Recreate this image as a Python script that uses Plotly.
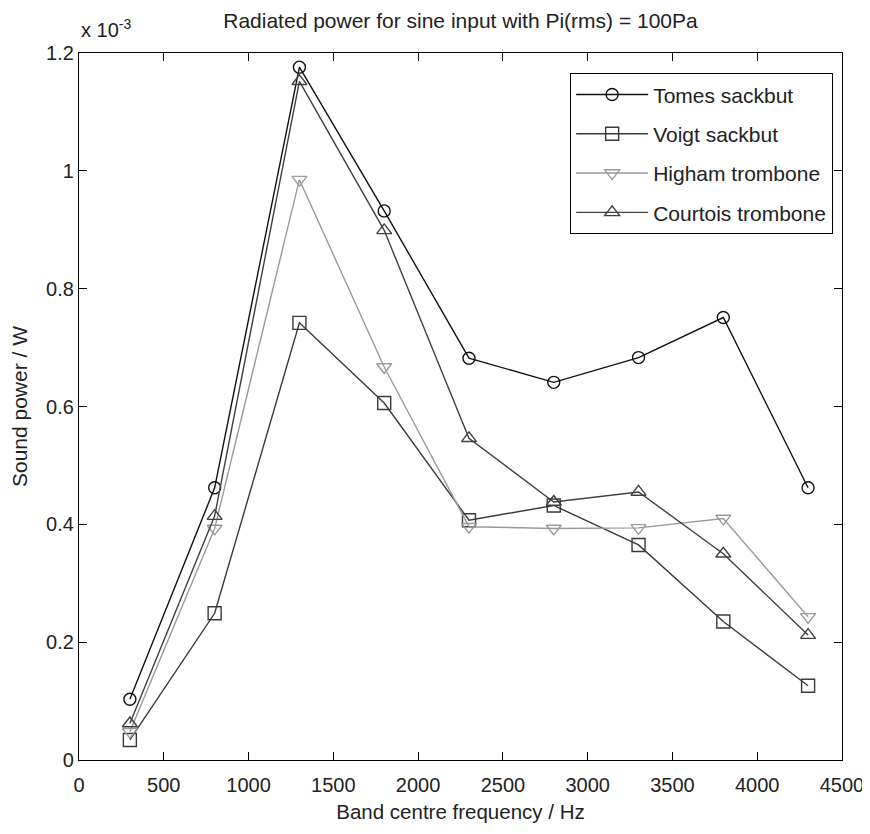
import plotly.graph_objects as go

freq = [300, 800, 1300, 1800, 2300, 2800, 3300, 3800, 4300]
tomes = [0.103, 0.462, 1.176, 0.932, 0.682, 0.641, 0.683, 0.751, 0.462]
voigt = [0.034, 0.249, 0.742, 0.606, 0.407, 0.432, 0.365, 0.235, 0.126]
higham = [0.048, 0.393, 0.985, 0.667, 0.396, 0.393, 0.394, 0.410, 0.243]
courtois = [0.062, 0.414, 1.152, 0.899, 0.546, 0.438, 0.455, 0.350, 0.212]

series_names = ["Tomes sackbut", "Voigt sackbut", "Higham trombone", "Courtois trombone"]
series_values = [tomes, voigt, higham, courtois]
symbols = ["circle-open", "square-open", "triangle-down-open", "triangle-up-open"]
colors = ["#111111", "#3a3a3a", "#9a9a9a", "#404040"]
sizes = [12, 13, 13, 13]

x_ticks = [0, 500, 1000, 1500, 2000, 2500, 3000, 3500, 4000, 4500]
x_ticklabels = [str(v) for v in x_ticks]
y_ticks = [0, 0.2, 0.4, 0.6, 0.8, 1.0, 1.2]
y_ticklabels = ["0", "0.2", "0.4", "0.6", "0.8", "1", "1.2"]

FONT = "Liberation Sans, Arial, sans-serif"
TXT = "#222222"

fig = go.Figure()
for i, (name, vals) in enumerate(zip(series_names, series_values)):
    fig.add_trace(go.Scatter(
        x=freq, y=vals, name=name, mode="lines+markers",
        line=dict(color=colors[i], width=1.4),
        marker=dict(symbol=symbols[i], size=sizes[i], color=colors[i],
                    line=dict(width=1.4, color=colors[i])),
        legendgroup=name,
    ))

axis_common = dict(
    showline=True, linecolor="black", linewidth=1.3, mirror="ticks",
    ticks="inside", ticklen=8, tickwidth=1.3, tickcolor="black",
    showgrid=False, zeroline=False, automargin=False,
    ticklabeloverflow="allow",
    tickfont=dict(family=FONT, size=20, color=TXT),
)

# page body has an 8px margin, so the figure is sized/offset to compensate
fig.update_layout(
    width=862, height=818,
    margin=dict(l=71, r=28, t=45, b=66),
    paper_bgcolor="white", plot_bgcolor="white",
    title=dict(text="Radiated power for sine input with Pi(rms) = 100Pa",
               x=0.5, xref="paper", xanchor="center", y=0.985, yanchor="middle",
               font=dict(family=FONT, size=21, color=TXT)),
    xaxis=dict(range=[0, 4500], tickvals=x_ticks, ticktext=x_ticklabels,
               ticklabelstandoff=7,
               title=dict(text="Band centre frequency / Hz", standoff=9,
                          font=dict(family=FONT, size=20.5, color=TXT)),
               **axis_common),
    yaxis=dict(range=[0, 1.2], tickvals=y_ticks, ticktext=y_ticklabels,
               title=dict(text="Sound power / W", standoff=13,
                          font=dict(family=FONT, size=21, color=TXT)),
               **axis_common),
    legend=dict(x=0.988, y=0.9717, xanchor="right", yanchor="top",
                bordercolor="black", borderwidth=1.3, bgcolor="white",
                font=dict(family=FONT, size=21, color=TXT),
                tracegroupgap=9, itemwidth=72),
    showlegend=True,
    annotations=[dict(text="x 10<sup>-3</sup>", xref="paper", yref="paper",
                      x=0.0, y=1.0, xanchor="left", yanchor="bottom", yshift=10,
                      showarrow=False,
                      font=dict(family=FONT, size=20, color=TXT))],
)

fig.write_html("out.html")
